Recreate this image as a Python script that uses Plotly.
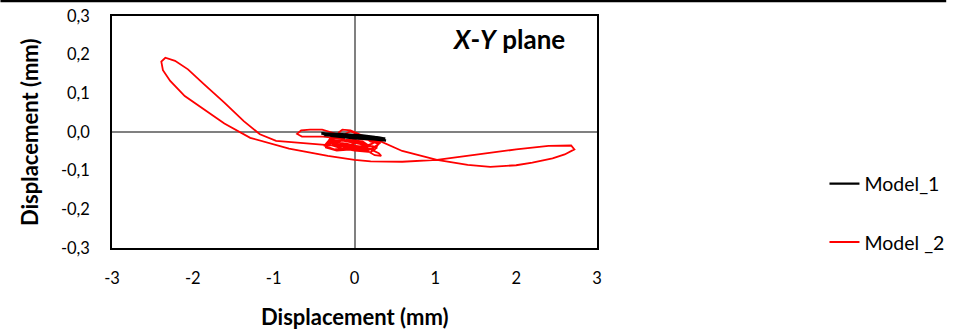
import plotly.graph_objects as go

# ---------------- data ----------------
model1_x = [0.00, 0.20, 0.39, 0.15, -0.15, -0.41, -0.20, 0.10, 0.30, 0.38, 0.05, -0.25, -0.38, -0.05, 0.25, 0.36, 0.00, -0.30]
model1_y = [-0.010, -0.016, -0.022, -0.017, -0.011, -0.004, -0.005, -0.009, -0.014, -0.017, -0.014, -0.009, -0.008, -0.008, -0.013, -0.020, -0.016, -0.010]

model2_x = [0.00, 0.10, 0.20, 0.30, 0.25, 0.10, -0.10, -0.30, -0.38, -0.25, -0.05, 0.15, 0.28, 0.20, 0.00,
            -0.20, -0.35, -0.30, -0.10, 0.05, -0.05, -0.15, -0.20, -0.05, 0.15, 0.32, 0.25, 0.05, -0.15,
            -0.32, -0.25, 0.00, 0.20, 0.30, 0.33, 0.25, 0.15, 0.00, -0.20,
            -0.10, 0.08, 0.18, 0.10, -0.08, -0.28, -0.36, -0.22, 0.02, 0.22, 0.28, 0.12, -0.05, -0.12, 0.00,
            0.12, 0.24, 0.14, -0.02, -0.18, -0.30, -0.16, 0.04, 0.18, 0.08, -0.10, -0.24, -0.12,
            -0.39, -0.55, -0.65, -0.71, -0.66, -0.55, -0.40, -0.30, -0.15, 0.05, 0.20,
            0.31, 0.59, 1.02, 1.40, 1.68, 2.00, 2.20, 2.45, 2.60, 2.72, 2.68, 2.40, 2.00, 1.60, 1.30,
            1.02, 0.59, 0.20, 0.00, -0.33, -0.81, -1.29, -1.61, -1.86, -2.10, -2.28, -2.37, -2.39,
            -2.34, -2.22, -2.06, -1.86, -1.61, -1.37, -1.17, -0.97, -0.65, -0.33, -0.10, 0.00]
model2_y = [0.000, -0.010, -0.025, -0.030, -0.045, -0.040, -0.030, -0.025, -0.035, -0.045, -0.040, -0.035, -0.040, -0.052, -0.048,
            -0.040, -0.030, -0.018, -0.012, -0.005, 0.004, 0.006, -0.002, -0.015, -0.020, -0.028, -0.038, -0.030, -0.022,
            -0.020, -0.035, -0.038, -0.045, -0.055, -0.062, -0.060, -0.048, -0.040, -0.030,
            -0.042, -0.046, -0.036, -0.024, -0.020, -0.026, -0.040, -0.048, -0.044, -0.030, -0.022, -0.014, 0.002, -0.006, -0.020,
            -0.030, -0.040, -0.050, -0.044, -0.034, -0.028, -0.022, -0.026, -0.034, -0.042, -0.038, -0.030, -0.018,
            -0.012, -0.012, -0.012, -0.005, 0.004, 0.006, 0.006, 0.000, -0.010, -0.018, -0.020,
            -0.023, -0.049, -0.072, -0.085, -0.090, -0.086, -0.079, -0.068, -0.058, -0.045, -0.035, -0.036, -0.045, -0.056, -0.064,
            -0.072, -0.077, -0.076, -0.072, -0.062, -0.043, -0.015, 0.022, 0.059, 0.093, 0.132, 0.160, 0.182,
            0.192, 0.184, 0.162, 0.123, 0.076, 0.028, -0.006, -0.023, -0.029, -0.034, -0.036, -0.030]

x_tickvals = [-3, -2, -1, 0, 1, 2, 3]
x_ticktext = ["-3", "-2", "-1", "0", "1", "2", "3"]
y_tickvals = [-0.3, -0.2, -0.1, 0.0, 0.1, 0.2, 0.3]
y_ticktext = ["-0,3", "-0,2", "-0,1", "0,0", "0,1", "0,2", "0,3"]

FONT = "Lato"

fig = go.Figure()
fig.add_trace(go.Scatter(x=model2_x, y=model2_y, mode="lines", name="Model _2",
                         line=dict(color="#ff0000", width=1.8), legendgroup="g2", legendrank=2))
fig.add_trace(go.Scatter(x=model1_x, y=model1_y, mode="lines", name="Model_1",
                         line=dict(color="#000000", width=2.4), legendgroup="g1", legendrank=1))

common_axis = dict(showgrid=False, zeroline=True, zerolinecolor="#808080", zerolinewidth=1.5,
                   showline=True, mirror=True, linecolor="black", linewidth=1.5,
                   ticks="outside", tickcolor="rgba(0,0,0,0)", automargin=False,
                   tickfont=dict(family=FONT, size=16.5))

fig.update_layout(
    width=962, height=329, autosize=False,
    margin=dict(l=112, r=352, t=16, b=81),
    paper_bgcolor="white", plot_bgcolor="white",
    font=dict(family=FONT, color="black", size=16),
    xaxis=dict(range=[-3, 3], tickvals=x_tickvals, ticktext=x_ticktext, ticklen=14, **common_axis),
    yaxis=dict(range=[-0.3, 0.3], tickvals=y_tickvals, ticktext=y_ticktext, ticklen=17, **common_axis),
    xaxis2=dict(overlaying="x", anchor="free", position=0.5, range=[-3, 3], automargin=False,
                tickvals=x_tickvals, showticklabels=False, ticks="outside", ticklen=5,
                tickcolor="#808080", tickwidth=1, showgrid=False, zeroline=False, showline=False),
    yaxis2=dict(overlaying="y", anchor="free", position=0.5, range=[-0.3, 0.3], side="left",
                automargin=False,
                tickvals=y_tickvals, showticklabels=False, ticks="outside", ticklen=5,
                tickcolor="#808080", tickwidth=1, showgrid=False, zeroline=False, showline=False),
    legend=dict(x=1.469, y=0.36, xanchor="left", yanchor="top",
                traceorder="grouped", tracegroupgap=30,
                font=dict(family=FONT, size=19.5), bgcolor="rgba(0,0,0,0)"),
    showlegend=True,
)

fig.add_annotation(text="<b><i>X</i>-<i>Y</i> plane</b>", xref="paper", yref="paper",
                   x=0.817, y=0.9, showarrow=False, xanchor="center", yanchor="middle",
                   font=dict(family=FONT, size=26))
fig.add_annotation(text="<b>Displacement (mm)</b>", xref="paper", yref="paper",
                   x=0.5, y=-0.297, showarrow=False, xanchor="center", yanchor="middle",
                   font=dict(family=FONT, size=22))
fig.add_annotation(text="<b>Displacement (mm)</b>", xref="paper", yref="paper",
                   x=-0.171, y=0.5, showarrow=False, textangle=-90, xanchor="center",
                   yanchor="middle", font=dict(family=FONT, size=22))

fig.add_shape(type="line", xref="paper", yref="paper",
              x0=-0.23, x1=1.72, y0=1.0647, y1=1.0647, line=dict(color="black", width=2.5))

fig.write_html("out.html",
               config={"displayModeBar": False, "responsive": False},
               post_script="document.body.style.margin='0px';"
                           "document.documentElement.style.overflow='hidden';"
                           "document.body.style.overflow='hidden';")
